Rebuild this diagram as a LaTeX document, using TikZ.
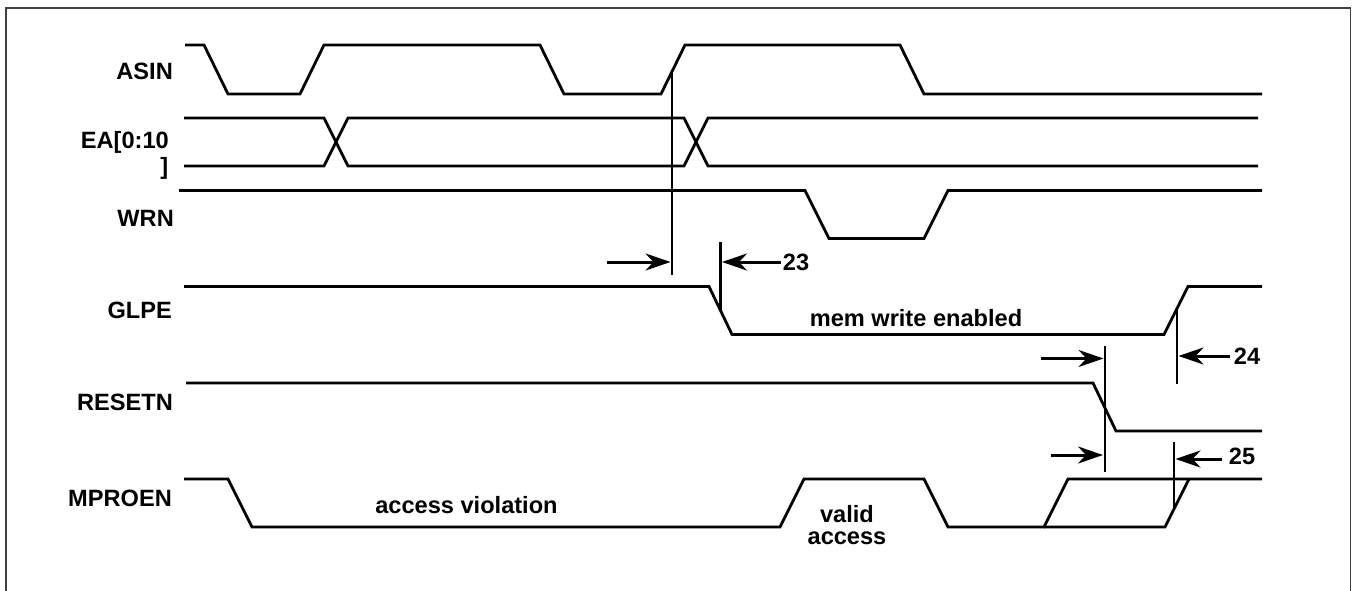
\documentclass[tikz,border=0pt]{standalone}
\usepackage{fontspec}
\setmainfont{Liberation Sans}
\usetikzlibrary{arrows.meta}
\tikzset{
  x=1pt,y=-1pt,
  wave/.style={line width=2.8pt,line join=miter,line cap=butt},
  mark line/.style={line width=2.8pt},
  dim/.style={line width=3pt,-{Stealth[length=25pt,width=17pt,inset=8pt]}},
  sig/.style={anchor=east,inner sep=0pt,font=\fontsize{23.6}{26}\selectfont\bfseries},
  note/.style={inner sep=0pt,font=\fontsize{23.6}{26}\selectfont\bfseries,align=center},
}
\begin{document}
\begin{tikzpicture}
\useasboundingbox (0,0) rectangle (1352,591);
\draw[line width=1.7pt,color=black!75] (6,591) -- (6,8) -- (1350.5,8) -- (1350.5,591);
% signal names
\node[sig] (asin) at (173,71) {ASIN};
\node[sig] (ea1) at (169,142) {EA[0:10};
\node[sig] (ea2) at (168.5,168) {]};
\node[sig] (wrn) at (174,218) {WRN};
\node[sig] (glpe) at (172,310) {GLPE};
\node[sig] (resetn) at (173,402) {RESETN};
\node[sig] (mproen) at (172,498) {MPROEN};
% waveforms
\draw[wave] (185,45)--(204,45)--(228,94)--(300,94)--(324,45)--(540,45)--(564,94)--(661,94)--(685,45)--(900,45)--(924,94)--(1262,94);
\draw[wave] (184,118)--(324,118)--(348,166)--(684,166)--(708,118)--(1258,118);
\draw[wave] (184,166)--(324,166)--(348,118)--(684,118)--(708,166)--(1258,166);
\draw[wave] (179,190.5)--(805,190.5)--(829,238.5)--(924,238.5)--(948,190.5)--(1262,190.5);
\draw[wave] (184,286.5)--(709,286.5)--(732,334.5)--(1164,334.5)--(1188,286.5)--(1262,286.5);
\draw[wave] (186,383)--(1093,383)--(1116,431)--(1262,431);
\draw[wave] (184,479)--(228,479)--(252,527)--(780,527)--(804,479)--(924,479)--(948,527)--(1044,527)--(1068,479)--(1262,479);
\draw[wave] (1044,527)--(1165,527)--(1189,479);
% timing reference lines
\coordinate (m1t) at (672,70); \coordinate (m1b) at (672,275);
\coordinate (m2t) at (720.5,242); \coordinate (m2b) at (720.5,311);
\coordinate (m3t) at (1105,346); \coordinate (m3b) at (1105,472);
\coordinate (m4t) at (1177,308); \coordinate (m4b) at (1177,384);
\coordinate (m5t) at (1174,442); \coordinate (m5b) at (1174,509);
\draw[mark line] (m1t)--(m1b);
\draw[mark line] (m2t)--(m2b);
\draw[mark line] (m3t)--(m3b);
\draw[mark line] (m4t)--(m4b);
\draw[mark line] (m5t)--(m5b);
% labels
\node[note] (n23) at (796,262) {23};
\node[note] (n24) at (1247,356) {24};
\node[note] (n25) at (1242,456) {25};
\node[note] (mem) at (916,318) {mem write enabled};
\node[note] (viol) at (466.5,505) {access violation};
\node[note] (valid) at (847,514) {valid};
\node[note] (acc) at (847,538) {access};
% dimension arrows
\coordinate (a1) at (607,262); \coordinate (a1e) at (670.5,262);
\coordinate (a2e) at (722,262);
\coordinate (a3e) at (1178.5,356);
\coordinate (a4) at (1041,358.5); \coordinate (a4e) at (1103.5,358.5);
\coordinate (a5) at (1051,455); \coordinate (a5e) at (1103,455);
\coordinate (a6e) at (1175.5,459);
\draw[dim] (a1)--(a1e);
\draw[dim] ([xshift=-2pt]n23.west)--(a2e);
\draw[dim] ([xshift=-4pt]n24.west)--(a3e);
\draw[dim] (a4)--(a4e);
\draw[dim] (a5)--(a5e);
\draw[dim] ([xshift=-7pt,yshift=-3pt]n25.west)--(a6e);
\end{tikzpicture}
\end{document}
